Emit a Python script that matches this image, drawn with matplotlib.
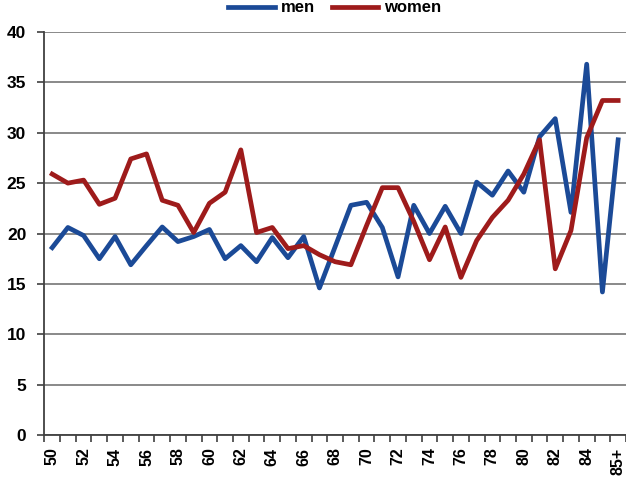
import matplotlib
matplotlib.use('Agg')
import matplotlib.pyplot as plt
import numpy as np

# categories (age), labels only on every second one
ages = [str(a) for a in range(50, 86)] + ["85+"]
men = [18.6, 20.6, 19.8, 17.5, 19.7, 16.9, 18.8, 20.65, 19.2, 19.7,
       20.4, 17.5, 18.8, 17.2, 19.6, 17.6, 19.7, 14.6, 18.7, 22.8,
       23.1, 20.6, 15.7, 22.8, 20.0, 22.7, 20.0, 25.1, 23.8, 26.2,
       24.1, 29.6, 31.4, 22.1, 36.8, 14.2, 29.3]
women = [25.9, 25.0, 25.3, 22.9, 23.5, 27.4, 27.9, 23.3, 22.8, 20.1,
         23.0, 24.1, 28.3, 20.1, 20.6, 18.5, 18.8, 17.9, 17.2, 16.9,
         20.8, 24.55, 24.55, 21.2, 17.4, 20.65, 15.65, 19.3, 21.6, 23.3,
         25.9, 29.3, 16.5, 20.3, 29.5, 33.2, 33.2]
tick_labels = [a if i % 2 == 0 else "" for i, a in enumerate(ages)]

fig = plt.figure(figsize=(6.26, 4.84), dpi=100)
ax = fig.add_axes([0.0708, 0.101, 0.9292, 0.833])

x = np.arange(len(ages))
ax.plot(x, men, color="#1b4a97", lw=3.4, label="men", solid_joinstyle="round")
ax.plot(x, women, color="#9e1b1b", lw=3.4, label="women", solid_joinstyle="round")

ax.set_xlim(-0.5, len(ages) - 0.5)
ax.set_ylim(0, 40)
ax.set_yticks(range(0, 41, 5))
ax.yaxis.grid(True, color="#808080", lw=1.3)
ax.set_axisbelow(True)

ax.set_xticks(x)
ax.set_xticklabels(tick_labels, rotation=90, fontsize=11.5, fontweight="bold",
                   family="Liberation Sans")
ax.set_xticks(np.arange(-0.5, len(ages) + 0.5, 1), minor=True)
ax.tick_params(axis="x", which="major", length=0, pad=9)
ax.tick_params(axis="x", which="minor", length=5, width=1.2, color="#404040")
ax.tick_params(axis="y", length=5, width=1.2, color="#404040", pad=8)
for lab in ax.get_yticklabels():
    lab.set_fontsize(12.5)
    lab.set_fontweight("bold")
    lab.set_family("Liberation Sans")

for s in ["top", "right"]:
    ax.spines[s].set_visible(False)
ax.spines["left"].set_color("#404040")
ax.spines["left"].set_linewidth(1.3)
ax.spines["bottom"].set_color("#404040")
ax.spines["bottom"].set_linewidth(1.3)

fig.legend(loc="upper center", bbox_to_anchor=(0.535, 1.03), ncol=2, frameon=False,
           handlelength=2.8, handletextpad=0.35, columnspacing=1.0,
           prop={"family": "Liberation Sans", "weight": "bold", "size": 12})

fig.savefig("out.png", dpi=100)
